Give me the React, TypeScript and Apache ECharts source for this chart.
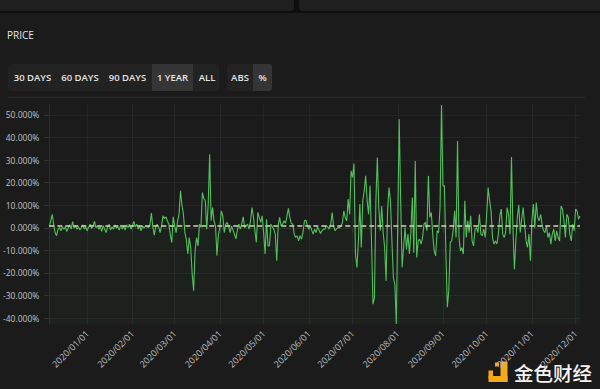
import React, { useEffect, useRef } from "react";
import * as echarts from "echarts";

// ---- data: daily % price change, one array per month ----
const startDate = "2019-12-06";
const dec2019 = [0.4, 3.0, 6.0, 1.6, -2.1, -3.5, -0.6, 0.1, -1.3, 0.4, -0.6, 0.4, -1.6, 0.1, 1.3, -0.6, 2.7, -0.1, 0.9, -0.6, 0.4, -1.0, 0.1, 1.3, -0.6, 0.4];
const jan2020 = [-1.3, 0.4, 1.6, -0.3, 0.9, 2.8, 0.1, 0.9, -0.6, 0.4, -1.6, 0.9, -0.6, -2.1, 0.4, 1.6, -1.0, 0.4, -0.6, 1.3, -0.1, 0.4, -1.0, 1.3, -0.6, 0.9, -1.0, 1.3, 0.1, 1.6, -0.6];
const feb2020 = [0.9, 2.8, 0.4, 1.6, -0.6, 0.9, -1.3, 0.9, -0.1, 0.9, 0.4, 0.1, 1.3, 6.5, 0.5, -3.2, 0.5, 1.6, 0.3, -2.1, 1.0, 5.4, 4.0, 4.9, 3.0, 1.6, -3.0, -6.5, 4.9];
const mar2020 = [1.0, -2.1, 3.0, 6.1, 16.4, 10.0, 6.1, -2.1, -5.0, -11.6, -4.3, -8.7, -20.5, -27.9, -10.0, -4.3, -8.0, 1.6, 0.2, 15.6, 13.0, 12.1, -0.6, 10.6, 32.6, 3.2, 9.0, 3.0, 0.8, -12.3, -3.0];
const apr2020 = [0.1, 7.5, 5.4, -2.1, 1.5, 2.4, 0.8, -2.1, 0.8, -1.0, -2.8, -4.9, -1.0, 1.6, -0.6, 2.0, 4.9, 0.1, 1.0, 1.6, -0.6, 3.0, 9.0, 4.9, -1.0, -6.5, 6.8, 4.6, 2.4, 5.3];
const may2020 = [-2.0, -11.6, 3.8, -8.0, -8.0, 1.6, 0.5, -0.6, -2.8, -14.6, 1.0, 4.6, 0.9, 1.6, 3.1, 2.0, 5.3, 8.6, 4.6, 2.0, 1.6, -2.8, -4.3, -3.5, -5.8, -3.5, -5.0, -2.0, 3.1, 3.4, 1.0];
const jun2020 = [-0.6, 0.9, -1.0, -2.8, -0.6, -2.1, 0.4, -1.0, -2.5, -1.3, -0.6, -0.6, 0.9, 0.4, -0.6, 1.6, 6.8, 0.9, -1.3, -0.5, 0.1, 0.1, 0.9, 2.0, 7.5, 4.6, 3.1, 12.7, 6.0, 25.2];
const jul2020 = [22.3, 28.5, -11.6, -17.6, -5.8, 10.5, -8.7, 12.0, 16.4, 23.0, 12.0, 6.0, 18.6, -5.9, -33.8, -31.0, 12.0, 31.1, 9.0, -1.3, 9.7, -2.0, -8.7, -23.5, 7.5, 17.8, 12.0, -5.8, -22.0, -25.0, -42.6];
const aug2020 = [3.0, 48.1, 12.0, -17.5, -8.8, 0.1, -9.6, -2.8, -11.6, -2.1, 13.4, -11.0, 29.6, -13.1, -5.8, -5.0, -7.2, -4.3, 1.6, 2.4, -1.3, 23.0, 4.6, 6.8, -2.8, -10.2, -12.4, -1.3, -2.1, 9.0, 54.4];
const sep2020 = [18.6, 18.6, -10.2, -35.2, -27.9, -6.5, -5.8, -1.3, 7.5, -4.3, 38.5, -4.3, -10.2, -8.8, -11.6, 12.0, -4.3, 3.1, -2.1, 5.3, -5.8, -8.0, -0.6, 0.1, -2.1, 6.0, -2.8, -3.5, -0.6, -4.3];
const oct2020 = [6.0, 17.8, 12.0, 7.5, -4.3, -7.2, -5.8, -7.2, -2.8, 5.3, 8.3, -2.8, -4.3, -2.1, 9.0, 6.0, -2.8, 31.4, 0.1, -18.3, -5.8, 4.6, 10.2, -2.1, 3.8, 9.0, 1.6, -5.8, -8.7, -2.8, -14.6];
const nov2020 = [3.1, 10.5, 0.1, 11.2, 4.6, 3.1, 6.0, 1.6, -1.3, -2.1, 0.9, -4.3, -2.1, -7.2, -2.8, -0.6, -5.8, -1.3, -4.3, -5.8, 9.7, 8.3, 3.1, -4.3, 6.0, 4.6, -2.8, -5.8, 1.6, -1.3];
const dec2020 = [8.3, 7.5, 3.8, 5.3];

const rangeButtons = ["30 DAYS", "60 DAYS", "90 DAYS", "1 YEAR", "ALL"];
const modeButtons = ["ABS", "%"];
const activeRange = "1 YEAR";
const activeMode = "%";
const panelTitle = "PRICE";
const watermarkText = "金色财经";

const values = [
  ...dec2019, ...jan2020, ...feb2020, ...mar2020, ...apr2020, ...may2020,
  ...jun2020, ...jul2020, ...aug2020, ...sep2020, ...oct2020, ...nov2020, ...dec2020,
];

function buildDates(n: number): string[] {
  const [y, m, d] = startDate.split("-").map(Number);
  const out: string[] = [];
  for (let i = 0; i < n; i++) {
    const dt = new Date(Date.UTC(y, m - 1, d + i));
    out.push(
      `${dt.getUTCFullYear()}/${String(dt.getUTCMonth() + 1).padStart(2, "0")}/${String(dt.getUTCDate()).padStart(2, "0")}`
    );
  }
  return out;
}
const dates = buildDates(values.length);

// ---- layout (not data) ----
const FONT = "'Open Sans', 'Noto Sans', sans-serif";
const BG = "#1b1b1b";
const rangeLayout = [
  [8, 49], [57, 46], [105, 45], [152, 41], [195, 24],
];
const modeLayout = [
  [227, 26], [253, 19],
];

function buttonGraphics(labels: string[], layout: number[][], active: string) {
  const els: any[] = [];
  const x0 = layout[0][0];
  const last = layout[layout.length - 1];
  els.push({
    type: "rect",
    shape: { x: x0, y: 64, width: last[0] + last[1] - x0, height: 27, r: 3 },
    style: { fill: "#222222" },
  });
  labels.forEach((lab, i) => {
    const [bx, bw] = layout[i];
    if (lab === active) {
      els.push({
        type: "rect",
        shape: { x: bx, y: 64, width: bw, height: 27, r: i === labels.length - 1 ? [0, 3, 3, 0] : 0 },
        style: { fill: "#353535" },
      });
    }
    els.push({
      type: "text",
      style: {
        x: bx + bw / 2,
        y: 77.5,
        text: lab,
        fill: "#e4e4e4",
        fontSize: 9.5,
        fontWeight: 600,
        fontFamily: FONT,
        align: "center",
        verticalAlign: "middle",
        textAlign: "center",
        textVerticalAlign: "middle",
      },
    });
  });
  return els;
}

const isMonthStart = (_i: number, v: string) => typeof v === "string" && v.endsWith("/01");

export default function App() {
  const ref = useRef<HTMLDivElement>(null);
  useEffect(() => {
    if (!ref.current) return;
    const chart = echarts.init(ref.current, undefined, { renderer: "svg" });
    const graphics: any[] = [
      { type: "rect", shape: { x: 0, y: 0, width: 600, height: 13 }, style: { fill: "#0e0e0e" } },
      { type: "rect", shape: { x: 0, y: 0, width: 294, height: 11, r: [0, 0, 4, 0] }, style: { fill: "#1f1f1f" } },
      { type: "rect", shape: { x: 299, y: 0, width: 301, height: 11, r: [0, 0, 0, 4] }, style: { fill: "#1f1f1f" } },
      {
        type: "text",
        style: {
          x: 7, y: 35, text: panelTitle, fill: "#e8e8e8", fontSize: 10, fontFamily: FONT,
          verticalAlign: "middle", textVerticalAlign: "middle",
        },
      },
      ...buttonGraphics(rangeButtons, rangeLayout, activeRange),
      ...buttonGraphics(modeButtons, modeLayout, activeMode),
      { type: "line", shape: { x1: 8, y1: 97.5, x2: 585, y2: 97.5 }, style: { stroke: "#2b2b2b", lineWidth: 1 } },
      // watermark logo
      { type: "rect", shape: { x: 500.5, y: 361.5, width: 7, height: 20.5 }, style: { fill: "#f2a91a" } },
      { type: "rect", shape: { x: 488.5, y: 376, width: 19, height: 6 }, style: { fill: "#f2a91a" } },
      { type: "rect", shape: { x: 488.5, y: 370.5, width: 4.5, height: 8 }, style: { fill: "#f2a91a" } },
      { type: "rect", shape: { x: 495, y: 362.5, width: 4, height: 4 }, style: { fill: "#f2a91a" } },
      {
        type: "text",
        style: {
          x: 514, y: 372, text: watermarkText, fill: "#f4f4f4", fontSize: 19.5, fontWeight: 500,
          fontFamily: "'Noto Sans CJK SC', sans-serif",
          verticalAlign: "middle", textVerticalAlign: "middle",
        },
      },
    ];

    chart.setOption({
      animation: false,
      backgroundColor: BG,
      textStyle: { fontFamily: FONT },
      grid: { left: 49, right: 20, top: 105, bottom: 65 },
      graphic: graphics,
      xAxis: {
        type: "category",
        data: dates,
        boundaryGap: false,
        axisLine: { show: true, lineStyle: { color: "#303030" } },
        axisTick: { show: true, interval: isMonthStart, length: 5, lineStyle: { color: "#363636" } },
        axisLabel: {
          interval: isMonthStart,
          rotate: 45,
          fontSize: 9,
          color: "#bdbdbd",
          margin: 8,
          fontFamily: FONT,
        },
        splitLine: { show: true, interval: isMonthStart, lineStyle: { color: "#252525" } },
      },
      yAxis: {
        type: "value",
        min: "dataMin",
        max: "dataMax",
        splitNumber: 9,
        axisLine: { show: true, lineStyle: { color: "#2c2c2c" } },
        axisTick: { show: true, length: 5, lineStyle: { color: "#333333" } },
        axisLabel: {
          formatter: (v: number) => `${v.toFixed(3)}%`,
          fontSize: 8.5,
          color: "#c2c2c2",
          margin: 10,
          showMinLabel: false,
          showMaxLabel: false,
          fontFamily: FONT,
        },
        splitLine: { show: true, showMaxLine: false, showMinLine: false, lineStyle: { color: "#252525" } },
      },
      series: [
        {
          type: "line",
          data: values,
          symbol: "none",
          showSymbol: false,
          lineStyle: { color: "#52c05c", width: 1.1 },
          areaStyle: { origin: "start", color: "rgba(70,170,75,0.07)" },
          markLine: {
            silent: true,
            symbol: "none",
            label: { show: false },
            lineStyle: { color: "#cfdcab", type: [5, 3], width: 1.5 },
            data: [{ type: "average" }],
          },
        },
      ],
    });
    return () => chart.dispose();
  }, []);

  return (
    <div
      ref={ref}
      style={{ position: "absolute", left: 0, top: 0, width: 600, height: 389, background: BG }}
    />
  );
}
